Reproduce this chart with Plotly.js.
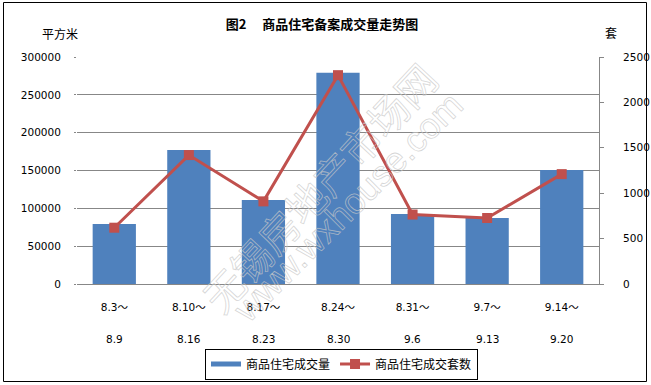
<!DOCTYPE html>
<html>
<head>
<meta charset="utf-8">
<script src="https://cdn.plot.ly/plotly-3.0.1.min.js"></script>
<style>html,body{margin:0;padding:0;background:#fff;}#chart{width:651px;height:385px;}</style>
</head>
<body>
<div id="chart"></div>
<script>
// Data
var weekStart = ['8.3～','8.10～','8.17～','8.24～','8.31～','9.7～','9.14～'];
var weekEnd = ['8.9','8.16','8.23','8.30','9.6','9.13','9.20'];
var areaSqm = [79300, 177000, 111000, 279300, 92500, 87200, 150600];
var unitsSold = [620, 1420, 910, 2300, 765, 727, 1210];
var areaName = '商品住宅成交量';
var unitsName = '商品住宅成交套数';
var chartTitle = '图2\u3000 商品住宅备案成交量走势图';
var leftUnit = '平方米';
var rightUnit = '套';
var watermarkCn = '无锡房地产市场网';
var watermarkUrl = 'www.wxhouse.com';

var numFont = 'DejaVu Sans, Noto Sans CJK SC, sans-serif';
var cjkFont = 'Noto Sans CJK SC, DejaVu Sans, sans-serif';
var gridCol = '#878787';

var W = 651, H = 385, L = 77, R = 52, T = 57, B = 101;
var pw = W - L - R, ph = H - T - B;
function px(x){ return (x - L) / pw; }
function py(y){ return (H - B - y) / ph; }

var traces = [
  {type:'bar', x: weekStart, y: areaSqm, name: areaName, marker:{color:'#4F81BD'}, showlegend:false, yaxis:'y'},
  {type:'scatter', mode:'lines', x:[null], y:[null], name: areaName, line:{color:'#4F81BD', width:5}, hoverinfo:'skip'},
  {type:'scatter', mode:'lines+markers', x: weekStart, y: unitsSold, name: unitsName, yaxis:'y2',
   line:{color:'#C0504D', width:3}, marker:{symbol:'square', size:10, color:'#C0504D'}}
];

var annotations = weekEnd.map(function(t, i){
  return {x: i, xref:'x', y: py(339), yref:'paper', text: t, showarrow:false,
          font:{family:numFont, size:10.5, color:'#000'}, xanchor:'center', yanchor:'middle'};
});
annotations.push({x: px(60), xref:'paper', y: py(33), yref:'paper', text: leftUnit, showarrow:false,
  font:{family:cjkFont, size:12, color:'#000'}, xanchor:'center', yanchor:'middle'});
annotations.push({x: px(611), xref:'paper', y: py(32), yref:'paper', text: rightUnit, showarrow:false,
  font:{family:cjkFont, size:12, color:'#000'}, xanchor:'center', yanchor:'middle'});
// watermark (outline styling applied after render)
var wmStart = annotations.length;
annotations.push({x: px(319), xref:'paper', y: py(187), yref:'paper', text: watermarkCn, showarrow:false,
  textangle:-47, font:{family:cjkFont, size:40, color:'rgba(255,255,255,0)'}, xanchor:'center', yanchor:'middle'});
annotations.push({x: px(347), xref:'paper', y: py(207), yref:'paper', text: watermarkUrl, showarrow:false,
  textangle:-45, font:{family:'Liberation Sans, Arial, sans-serif', size:36, color:'rgba(255,255,255,0)'}, xanchor:'center', yanchor:'middle'});

var layout = {
  width: W, height: H,
  margin:{l:L, r:R, t:T, b:B, pad:0, autoexpand:false},
  paper_bgcolor:'#fff', plot_bgcolor:'#fff',
  title:{text:'<b>'+chartTitle+'</b>', x: 322/W, xref:'container', xanchor:'center',
         y: 1 - 24/H, yref:'container', yanchor:'middle',
         font:{family:cjkFont, size:13, color:'#000'}},
  bargap: 0.42,
  xaxis:{type:'category', categoryorder:'array', categoryarray: weekStart, range:[-0.5, 6.5],
         tickmode:'array', tickvals: weekStart, ticktext: weekStart,
         showline:true, linecolor:gridCol, linewidth:1, ticks:'', showgrid:false, zeroline:false,
         tickfont:{family:numFont, size:10.5, color:'#000'}, ticklabelstandoff: 13, fixedrange:true},
  yaxis:{range:[0,300000], dtick:50000, tickformat:'d', showgrid:true, gridcolor:gridCol, gridwidth:1,
         zeroline:false, showline:false, ticks:'outside', ticklen:2, tickcolor:gridCol,
         tickfont:{family:numFont, size:10.5, color:'#000'}, ticklabelstandoff: 11},
  yaxis2:{range:[0,2500], dtick:500, tickformat:'d', overlaying:'y', side:'right', showgrid:false,
          zeroline:false, showline:true, linecolor:gridCol, linewidth:1, ticks:'outside', ticklen:4, tickcolor:gridCol,
          tickfont:{family:numFont, size:10.5, color:'#000'}, ticklabelstandoff: 17},
  legend:{orientation:'h', x: 341.5/W, xref:'container', xanchor:'center', y: 1 - 364/H, yref:'container', yanchor:'middle',
          bordercolor:'#000', borderwidth:1, font:{family:cjkFont, size:12, color:'#000'},
          itemwidth:30, tracegroupgap:0, bgcolor:'#fff'},
  annotations: annotations,
  shapes:[{type:'rect', xref:'paper', yref:'paper', x0: px(3.5), x1: px(646.5), y0: py(381.5), y1: py(2.5),
           line:{color:'#000', width:1}, fillcolor:'rgba(0,0,0,0)', layer:'above'}],
  showlegend:true
};

Plotly.newPlot('chart', traces, layout, {displayModeBar:false, staticPlot:true}).then(function(gd){
  var anns = gd.querySelectorAll('.annotation');
  for (var k = wmStart; k < anns.length; k++) {
    var t = anns[k].querySelector('text');
    if (t) {
      t.style.fill = 'rgba(255,255,255,0.25)';
      t.style.stroke = 'rgba(200,200,200,0.75)';
      t.style.strokeWidth = '0.8px';
    }
  }
});
</script>
</body>
</html>
